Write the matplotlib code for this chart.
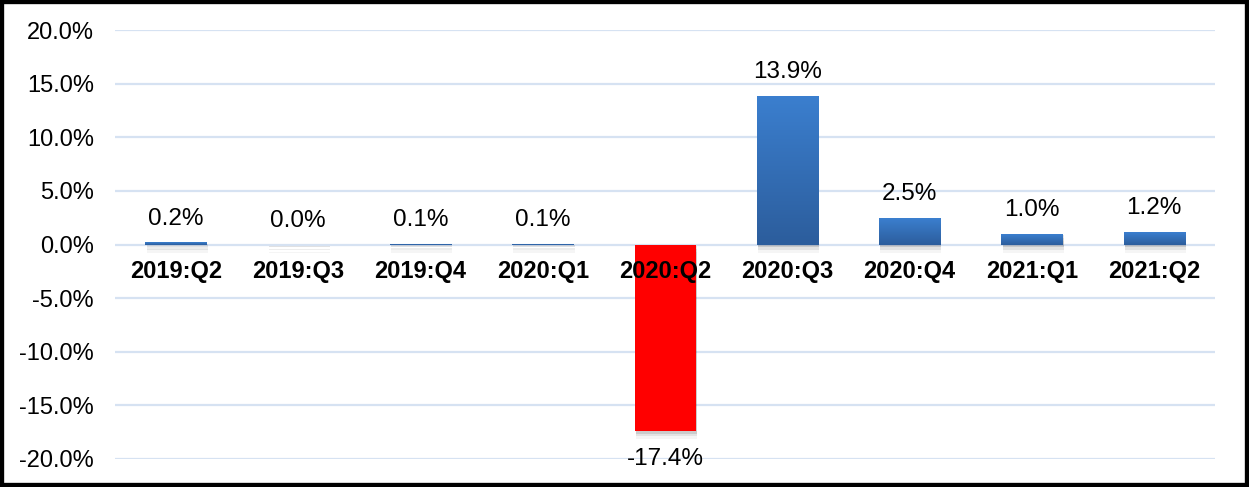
import matplotlib.pyplot as plt
import numpy as np
from matplotlib.patches import Rectangle
from matplotlib.colors import LinearSegmentedColormap

quarters = ['2019:Q2', '2019:Q3', '2019:Q4', '2020:Q1', '2020:Q2',
            '2020:Q3', '2020:Q4', '2021:Q1', '2021:Q2']
growth = [0.2, 0.0, 0.1, 0.1, -17.4, 13.9, 2.5, 1.0, 1.2]
labels = ['0.2%', '0.0%', '0.1%', '0.1%', '-17.4%', '13.9%', '2.5%', '1.0%', '1.2%']

plt.rcParams['font.family'] = ['Liberation Sans', 'DejaVu Sans']

fig = plt.figure(figsize=(12.49, 4.87), dpi=100)
ax = fig.add_axes([0.092, 0.0575, 0.881, 0.8805])

x = np.arange(len(quarters))
w = 0.5

# gridlines
for v in np.arange(-20, 21, 5):
    ax.axhline(v, color='#d6e2f2', linewidth=1.6, zorder=0)

# blue gradient for the bars
grad = np.linspace(0, 1, 256).reshape(-1, 1)
blue = LinearSegmentedColormap.from_list('b', ['#2c5d9c', '#3b7fcf'])

bars = ax.bar(x, growth, width=w, color='none', zorder=3)
for b, val in zip(bars, growth):
    x0 = b.get_x()
    # soft shadow
    for k, a in enumerate([0.10, 0.07, 0.04]):
        off = 0.25 + 0.25 * k
        sh = Rectangle((x0 + 0.01, min(val, 0) - off), w, abs(val) + 0.1,
                       color='black', alpha=a, linewidth=0, zorder=2)
        ax.add_patch(sh)
    if val < 0:
        ax.add_patch(Rectangle((x0, val), w, -val, color='#ff0000',
                               linewidth=0, zorder=3))
    elif val > 0:
        im = ax.imshow(grad, cmap=blue, aspect='auto', origin='lower',
                       extent=(x0, x0 + w, 0, val), zorder=3)
        im.set_clip_path(Rectangle((x0, 0), w, val, transform=ax.transData))

ax.set_xlim(-0.5, len(quarters) - 0.5)
ax.set_ylim(-20, 20)

# value labels
for xi, val, lab in zip(x, growth, labels):
    if val < 0:
        ax.annotate(lab, (xi, val), xytext=(0, -12), textcoords='offset points',
                    ha='center', va='top', fontsize=17.5, zorder=5)
    else:
        ax.annotate(lab, (xi, val), xytext=(0, 9), textcoords='offset points',
                    ha='center', va='bottom', fontsize=17.5, zorder=5)

# category labels just below zero line
for xi, q in zip(x, quarters):
    ax.text(xi, -2.5, q, ha='center', va='center', fontsize=17,
            fontweight='bold', zorder=6)

ax.set_xticks([])
ax.set_yticks(np.arange(-20, 21, 5))
ax.set_yticklabels([f'{v:.1f}%' for v in np.arange(-20, 21, 5)], fontsize=17)
ax.tick_params(axis='y', length=0, pad=15)
for s in ax.spines.values():
    s.set_visible(False)

# black frame round the figure
fig.patches.append(Rectangle((0, 0), 1, 1, transform=fig.transFigure,
                             fill=False, edgecolor='black', linewidth=6))

fig.savefig('out.png', dpi=100)
